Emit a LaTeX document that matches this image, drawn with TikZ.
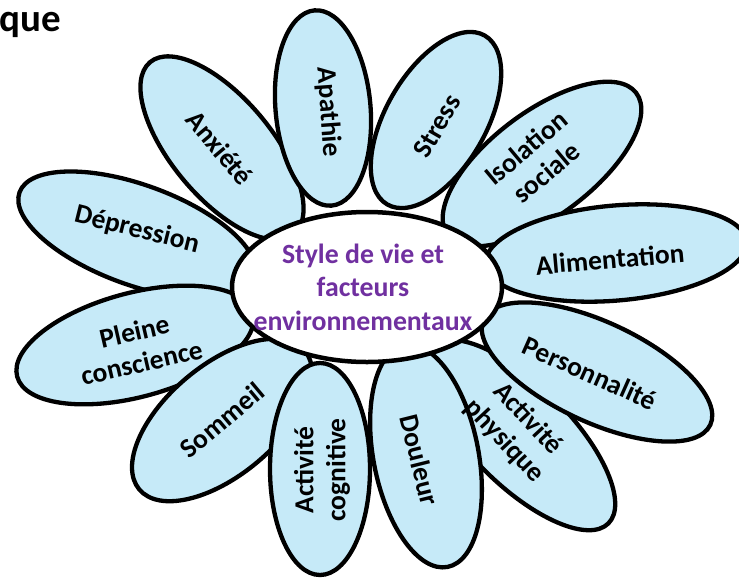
\documentclass[tikz,border=0pt]{standalone}
\usepackage{fontspec}
\setmainfont{Carlito}
\usetikzlibrary{shapes.geometric}
\definecolor{petalblue}{HTML}{C6EAF8}
\definecolor{centrepurple}{HTML}{7030A0}
\tikzset{
  petal/.style={ellipse, draw=black, line width=4.3pt, fill=petalblue, inner sep=0pt},
  ptext/.style={font=\bfseries\fontsize{27.5}{32}\selectfont, align=center, text=black, inner sep=0pt},
  centre/.style={ellipse, draw=black, line width=4.5pt, fill=white, inner sep=0pt, minimum width=270pt, minimum height=150pt},
  ctext/.style={font=\bfseries\fontsize{27.8}{33.5}\selectfont, align=center, text=centrepurple, inner sep=0pt}
}
\begin{document}
\begin{tikzpicture}[x=1pt,y=-1pt]
\useasboundingbox (0,0) rectangle (739,579);
% title fragment
\node[anchor=base west, inner sep=0pt, font=\bfseries\fontsize{39}{42}\selectfont] (title) at (-1,31) {que};
% petals
\node[petal, minimum width=250pt, minimum height=100pt, rotate=-20] (pdep) at (137,235) {};
\node[petal, minimum width=244pt, minimum height=104pt, rotate=15] (ppc) at (135,345) {};
\node[petal, minimum width=216pt, minimum height=110pt, rotate=40] (psom) at (222,420) {};
\node[petal, minimum width=224pt, minimum height=100pt, rotate=-50] (panx) at (222,148) {};
\node[petal, minimum width=196pt, minimum height=95pt, rotate=95] (papa) at (323,108) {};
\node[petal, minimum width=195pt, minimum height=100pt, rotate=60] (pstr) at (436,120) {};
\node[petal, minimum width=236pt, minimum height=104pt, rotate=37] (piso) at (542,164) {};
\node[petal, minimum width=262pt, minimum height=95pt, rotate=5] (pali) at (616,253) {};
\node[petal, minimum width=250pt, minimum height=100pt, rotate=-45] (pphy) at (520,435) {};
\node[petal, minimum width=250pt, minimum height=100pt, rotate=-25] (pper) at (597,372) {};
\node[petal, minimum width=226pt, minimum height=105pt, rotate=-79] (pdou) at (426,456) {};
\node[petal, minimum width=212pt, minimum height=100pt, rotate=90] (pcog) at (320,469) {};
% petal texts
\node[ptext, rotate=-14] (tdep) at (137,230) {Dépression};
\node[ptext, rotate=13] (tpc) at (138,347) {Pleine\\conscience};
\node[ptext, rotate=40] (tsom) at (222,420) {Sommeil};
\node[ptext, rotate=-50] (tanx) at (220,148) {Anxiété};
\node[ptext, rotate=-86] (tapa) at (328,112) {Apathie};
\node[ptext, rotate=60] (tstr) at (437,126) {Stress};
\node[ptext, rotate=40] (tiso) at (536,160) {Isolation\\sociale};
\node[ptext, rotate=5] (tali) at (610,259) {Alimentation};
\node[ptext, rotate=-24] (tper) at (590,373) {Personnalité};
\node[ptext, rotate=-47] (tphy) at (516,430) {Activité\\physique};
\node[ptext, rotate=-76] (tdou) at (420,460) {Douleur};
\node[ptext, rotate=90] (tcog) at (322,470) {Activité\\cognitive};
% centre
\node[centre] (c) at (367,287) {};
\node[ctext] (tc) at (363,287) {Style de vie et\\facteurs\\environnementaux};
\end{tikzpicture}
\end{document}
